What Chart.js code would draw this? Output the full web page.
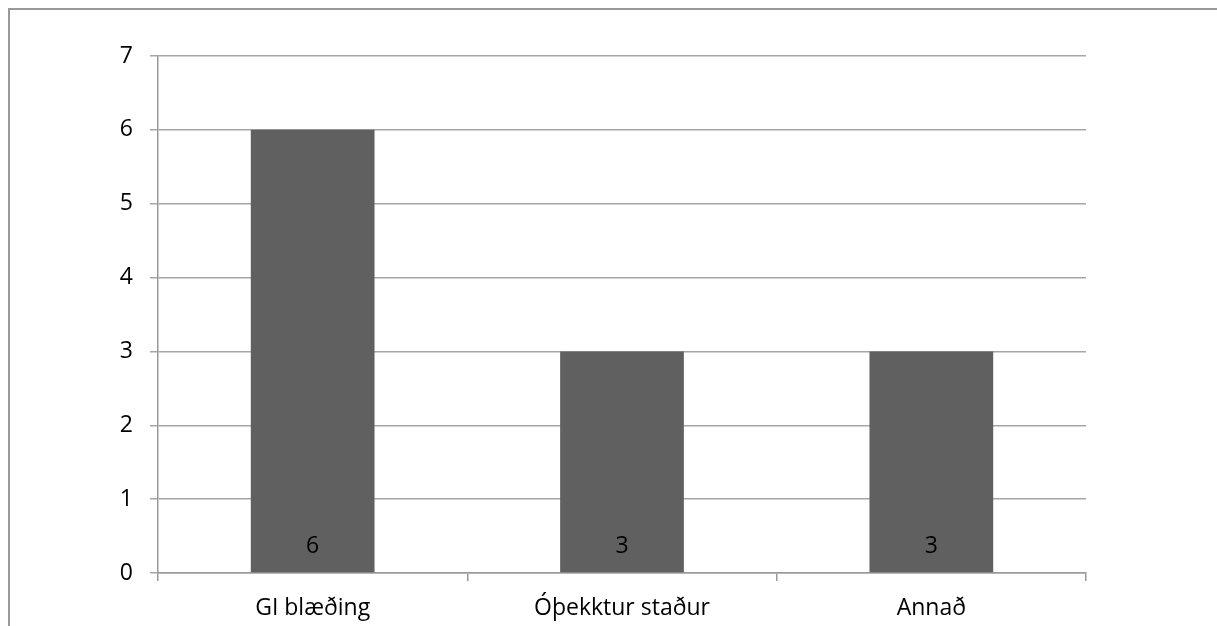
<!DOCTYPE html>
<html>
<head>
<meta charset="utf-8">
<script src="https://cdn.jsdelivr.net/npm/chart.js@4/dist/chart.umd.min.js"></script>
<style>
  html, body { margin: 0; padding: 0; background: #ffffff; }
  #wrap { width: 1217px; height: 626px; position: relative; }
</style>
</head>
<body>
<div id="wrap"><canvas id="c" width="1217" height="626"></canvas></div>
<script>
const categories = ['GI blæðing', 'Óþekktur staður', 'Annað'];
const counts = [6, 3, 3];
const yTicks = [0, 1, 2, 3, 4, 5, 6, 7];

const FONT = '"Open Sans", "Noto Sans", sans-serif';

// Frame lines along the left and top edges of the figure
const framePlugin = {
  id: 'frame',
  beforeDraw(chart) {
    const ctx = chart.ctx;
    ctx.save();
    ctx.strokeStyle = '#999999';
    ctx.lineWidth = 2;
    ctx.beginPath();
    ctx.moveTo(9, 626);
    ctx.lineTo(9, 9);
    ctx.lineTo(1217, 9);
    ctx.stroke();
    ctx.restore();
  }
};

// Value written near the base of each bar
const valueLabels = {
  id: 'valueLabels',
  afterDatasetsDraw(chart) {
    const ctx = chart.ctx;
    const meta = chart.getDatasetMeta(0);
    const yBase = chart.scales.y.getPixelForValue(0);
    ctx.save();
    ctx.fillStyle = '#000000';
    ctx.font = '23px ' + FONT;
    ctx.textAlign = 'center';
    ctx.textBaseline = 'middle';
    meta.data.forEach((bar, i) => {
      ctx.fillText(String(counts[i]), bar.x, yBase - 27);
    });
    ctx.restore();
  }
};

new Chart(document.getElementById('c'), {
  type: 'bar',
  data: {
    labels: categories,
    datasets: [{
      data: counts,
      backgroundColor: '#606060',
      borderWidth: 0,
      barPercentage: 0.4,
      categoryPercentage: 1.0
    }]
  },
  options: {
    responsive: false,
    animation: false,
    devicePixelRatio: 1,
    layout: { padding: { left: 0, top: 56, right: 131, bottom: 0 } },
    plugins: { legend: { display: false }, tooltip: { enabled: false } },
    scales: {
      x: {
        offset: true,
        grid: {
          offset: true,
          drawOnChartArea: false,
          drawTicks: true,
          tickLength: 8,
          color: '#999999',
          lineWidth: 1.5
        },
        border: { display: true, color: '#999999', width: 1.5 },
        ticks: { color: '#000000', font: { family: FONT, size: 23 }, padding: 14, maxRotation: 0 },
        afterFit(scale) { scale.height = 53; }
      },
      y: {
        min: 0,
        max: 7,
        afterBuildTicks(scale) { scale.ticks = yTicks.map(v => ({ value: v })); },
        grid: {
          color: '#a6a6a6',
          lineWidth: 1.5,
          drawTicks: true,
          tickLength: 8
        },
        border: { display: true, color: '#999999', width: 1.5 },
        ticks: { color: '#000000', font: { family: FONT, size: 23 }, padding: 17 },
        afterFit(scale) { scale.width = 158; }
      }
    }
  },
  plugins: [framePlugin, valueLabels]
});
</script>
</body>
</html>
